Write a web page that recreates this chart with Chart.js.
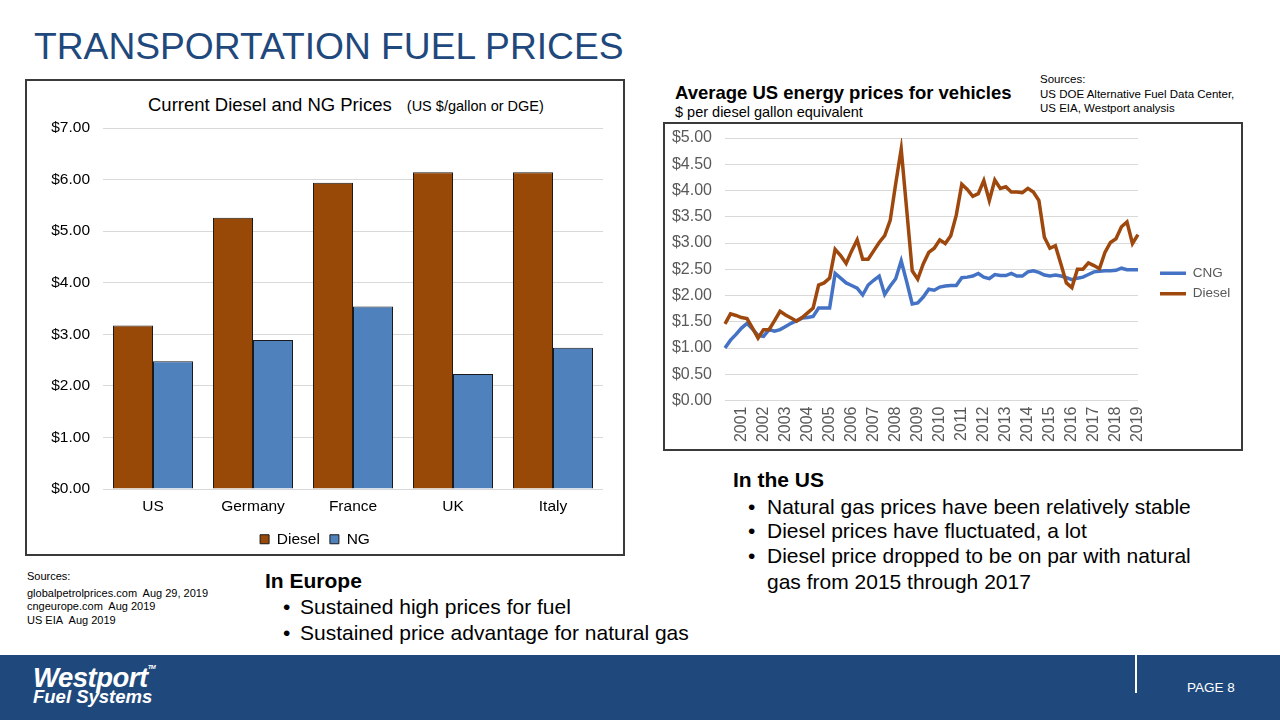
<!DOCTYPE html>
<html><head><meta charset="utf-8">
<script src="https://cdn.jsdelivr.net/npm/chart.js@4.4.1/dist/chart.umd.min.js"></script>
<style>
html,body{margin:0;padding:0;}
body{width:1280px;height:720px;position:relative;overflow:hidden;background:#fff;font-family:Arial,"Liberation Sans",Helvetica,sans-serif;color:#000;}
.t{position:absolute;white-space:nowrap;line-height:1;}
.box{position:absolute;box-sizing:border-box;border:2px solid #3a3a3a;}
canvas{position:absolute;}
.b{font-size:21px;}
.src{font-size:11.5px;}
</style></head>
<body>
<div class="t" style="left:34px;top:28px;font-size:37.2px;color:#1F497D;">TRANSPORTATION FUEL PRICES</div>

<div class="box" style="left:25px;top:79px;width:600px;height:477px;"></div>
<div class="t" style="left:148px;top:96px;font-size:18.5px;">Current Diesel and NG Prices <span style="font-size:14.5px;margin-left:10px;">(US $/gallon or DGE)</span></div>
<canvas id="bars" width="596" height="476" style="left:27px;top:81px;"></canvas>

<div class="t" style="left:675px;top:84px;font-size:18.5px;font-weight:bold;">Average US energy prices for vehicles</div>
<div class="t" style="left:675px;top:105px;font-size:14.5px;">$ per diesel gallon equivalent</div>
<div class="t src" style="left:1040px;top:74px;">Sources:</div>
<div class="t src" style="left:1040px;top:89px;">US DOE Alternative Fuel Data Center,</div>
<div class="t src" style="left:1040px;top:103px;">US EIA, Westport analysis</div>
<div class="box" style="left:663px;top:122px;width:580px;height:329px;"></div>
<canvas id="lines" width="576" height="323" style="left:665px;top:126px;"></canvas>

<div class="t b" style="left:733px;top:469px;font-weight:bold;">In the US</div>
<div class="t b" style="left:748px;top:496px;">•</div><div class="t b" style="left:767px;top:496px;">Natural gas prices have been relatively stable</div>
<div class="t b" style="left:748px;top:520px;">•</div><div class="t b" style="left:767px;top:520px;">Diesel prices have fluctuated, a lot</div>
<div class="t b" style="left:748px;top:545px;">•</div><div class="t b" style="left:767px;top:545px;">Diesel price dropped to be on par with natural</div>
<div class="t b" style="left:767px;top:571px;">gas from 2015 through 2017</div>

<div class="t b" style="left:265px;top:570px;font-weight:bold;">In Europe</div>
<div class="t b" style="left:283px;top:596px;">•</div><div class="t b" style="left:300px;top:596px;">Sustained high prices for fuel</div>
<div class="t b" style="left:283px;top:622px;">•</div><div class="t b" style="left:300px;top:622px;">Sustained price advantage for natural gas</div>

<div class="t" style="left:27px;top:571px;font-size:11px;">Sources:</div>
<div class="t" style="left:27px;top:588px;font-size:11px;">globalpetrolprices.com&nbsp; Aug 29, 2019</div>
<div class="t" style="left:27px;top:601px;font-size:11px;">cngeurope.com&nbsp; Aug 2019</div>
<div class="t" style="left:27px;top:615px;font-size:11px;">US EIA&nbsp; Aug 2019</div>

<div style="position:absolute;left:0;top:655px;width:1280px;height:65px;background:#1F497D;"></div>
<div class="t" style="left:33px;top:664px;font-size:27.5px;font-weight:bold;font-style:italic;color:#fff;letter-spacing:-0.5px;">Westport<span style="font-size:6px;vertical-align:top;">TM</span></div>
<div class="t" style="left:33px;top:688px;font-size:18.5px;font-weight:bold;font-style:italic;color:#fff;">Fuel Systems</div>
<div style="position:absolute;left:1135px;top:655px;width:2px;height:38px;background:#fff;"></div>
<div class="t" style="left:1187px;top:681px;font-size:13.5px;color:#fff;font-family:'Liberation Sans Narrow','Arial Narrow',Arial,sans-serif;">PAGE 8</div>

<script>
// ---- Left chart data ----
const countries = ['US', 'Germany', 'France', 'UK', 'Italy'];
const dieselNow = [3.17, 5.26, 5.94, 6.14, 6.14];
const ngNow = [2.48, 2.89, 3.54, 2.23, 2.74];

// ---- Right chart data (quarterly, 2000 Q2 .. 2019 Q1) ----
const quarters = [
 '2000 Q2','2000 Q3','2000 Q4',
 '2001 Q1','2001 Q2','2001 Q3','2001 Q4','2002 Q1','2002 Q2','2002 Q3','2002 Q4',
 '2003 Q1','2003 Q2','2003 Q3','2003 Q4','2004 Q1','2004 Q2','2004 Q3','2004 Q4',
 '2005 Q1','2005 Q2','2005 Q3','2005 Q4','2006 Q1','2006 Q2','2006 Q3','2006 Q4',
 '2007 Q1','2007 Q2','2007 Q3','2007 Q4','2008 Q1','2008 Q2','2008 Q3','2008 Q4',
 '2009 Q1','2009 Q2','2009 Q3','2009 Q4','2010 Q1','2010 Q2','2010 Q3','2010 Q4',
 '2011 Q1','2011 Q2','2011 Q3','2011 Q4','2012 Q1','2012 Q2','2012 Q3','2012 Q4',
 '2013 Q1','2013 Q2','2013 Q3','2013 Q4','2014 Q1','2014 Q2','2014 Q3','2014 Q4',
 '2015 Q1','2015 Q2','2015 Q3','2015 Q4','2016 Q1','2016 Q2','2016 Q3','2016 Q4',
 '2017 Q1','2017 Q2','2017 Q3','2017 Q4','2018 Q1','2018 Q2','2018 Q3','2018 Q4',
 '2019 Q1'];
const cngPrice = [
 1.00,1.15,1.26,1.38,1.47,1.36,1.24,1.22,1.35,1.32,
 1.35,1.41,1.47,1.52,1.57,1.58,1.60,1.76,1.76,1.76,
 2.42,2.33,2.24,2.19,2.14,2.01,2.20,2.29,2.37,2.02,
 2.18,2.32,2.66,2.26,1.84,1.86,1.97,2.12,2.10,2.16,
 2.18,2.19,2.19,2.34,2.35,2.37,2.42,2.35,2.32,2.40,
 2.38,2.38,2.42,2.37,2.37,2.45,2.47,2.44,2.39,2.37,
 2.39,2.37,2.34,2.30,2.33,2.35,2.40,2.45,2.46,2.47,
 2.47,2.48,2.52,2.49,2.49,2.49];
const dieselPrice = [
 1.46,1.65,1.62,1.58,1.56,1.38,1.19,1.35,1.35,1.52,
 1.70,1.63,1.57,1.51,1.58,1.67,1.76,2.20,2.24,2.33,
 2.88,2.76,2.61,2.85,3.06,2.69,2.69,2.85,3.01,3.14,
 3.43,4.13,4.79,3.63,2.47,2.31,2.60,2.82,2.90,3.06,
 2.99,3.14,3.53,4.12,4.02,3.89,3.94,4.19,3.81,4.20,
 4.04,4.07,3.97,3.97,3.96,4.04,3.97,3.81,3.11,2.90,
 2.95,2.60,2.24,2.15,2.50,2.50,2.62,2.57,2.51,2.82,
 3.01,3.08,3.31,3.40,2.99,3.16];

const DIESEL_BAR = '#984807', NG_BAR = '#4F81BD';
const CNG_LINE = '#4472C4', DIESEL_LINE = '#9E480E';
const money = v => '$' + Number(v).toFixed(2);

Chart.defaults.font.family = 'Arial, "Liberation Sans", sans-serif';
Chart.defaults.animation = false;

new Chart(document.getElementById('bars'), {
  type: 'bar',
  data: {
    labels: countries,
    datasets: [
      { label: 'Diesel', data: dieselNow, backgroundColor: DIESEL_BAR, borderColor: '#1a1a1a', borderWidth: 1 },
      { label: 'NG', data: ngNow, backgroundColor: NG_BAR, borderColor: '#1a1a1a', borderWidth: 1 }
    ]
  },
  options: {
    responsive: false,
    devicePixelRatio: 1,
    layout: { padding: { left: 0, right: 20, top: 47, bottom: 0 } },
    datasets: { bar: { categoryPercentage: 0.8, barPercentage: 1.0 } },
    scales: {
      x: {
        grid: { display: false, drawTicks: false },
        border: { display: false },
        ticks: { color: '#000', font: { size: 15.5 }, padding: 8 },
        afterFit: s => { s.height = 32.4; }
      },
      y: {
        min: 0, max: 7,
        grid: { color: '#d9d9d9', drawTicks: false },
        border: { display: false },
        ticks: { stepSize: 1, color: '#000', font: { size: 15.5 }, padding: 13, callback: money },
        afterFit: s => { s.width = 76; }
      }
    },
    plugins: {
      legend: {
        position: 'bottom',
        labels: { color: '#000', font: { size: 15.5 }, boxWidth: 9, boxHeight: 9, padding: 10 }
      },
      tooltip: { enabled: false }
    }
  }
});

const legendShift = {
  id: 'legendShift',
  afterLayout(chart, args, opts) {
    const lg = chart.legend;
    if (!lg) return;
    lg.left += opts.dx; lg.right += opts.dx;
    lg.top += opts.dy; lg.bottom += opts.dy;
  }
};

new Chart(document.getElementById('lines'), {
  type: 'line',
  data: {
    labels: quarters,
    datasets: [
      { label: 'CNG', data: cngPrice, borderColor: CNG_LINE, backgroundColor: CNG_LINE, borderWidth: 3.5, pointRadius: 0, tension: 0, order: 2 },
      { label: 'Diesel', data: dieselPrice, borderColor: DIESEL_LINE, backgroundColor: DIESEL_LINE, borderWidth: 3.5, pointRadius: 0, tension: 0, order: 1 }
    ]
  },
  plugins: [legendShift],
  options: {
    responsive: false,
    devicePixelRatio: 1,
    layout: { padding: { left: 0, right: 15.75, top: 12, bottom: 0 } },
    scales: {
      x: {
        offset: false,
        grid: { display: false, drawTicks: false },
        border: { display: false },
        ticks: {
          autoSkip: false, minRotation: 90, maxRotation: 90, padding: 6,
          color: '#595959', font: { size: 16 },
          callback: (v, i) => quarters[i].endsWith('Q1') ? quarters[i].slice(0, 4) : ''
        },
        afterFit: s => { s.height = 48.5; }
      },
      y: {
        min: 0, max: 5,
        grid: { color: '#d9d9d9', drawTicks: true, tickLength: 13, tickColor: 'rgba(0,0,0,0)' },
        border: { display: false },
        ticks: { stepSize: 0.5, color: '#595959', font: { size: 16 }, padding: 0, callback: money },
        afterFit: s => { s.width = 60; }
      }
    },
    plugins: {
      legend: {
        position: 'right',
        labels: {
          color: '#595959', font: { size: 13.5 }, usePointStyle: true, pointStyle: 'line',
          pointStyleWidth: 26, padding: 7,
          sort: (a, b) => a.datasetIndex - b.datasetIndex
        }
      },
      legendShift: { dx: 15, dy: -10 },
      tooltip: { enabled: false }
    }
  }
});
</script>
</body></html>
